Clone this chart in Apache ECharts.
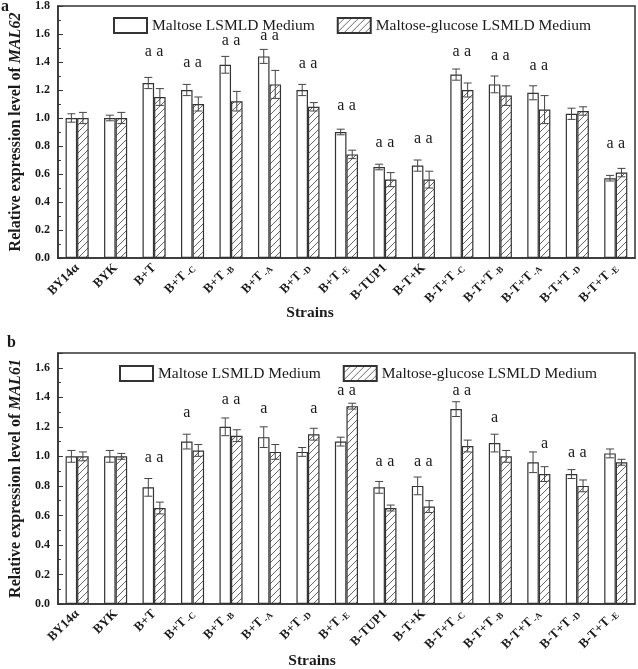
<!DOCTYPE html>
<html>
<head>
<meta charset="utf-8">
<script src="https://cdn.jsdelivr.net/npm/echarts@6/dist/echarts.min.js"></script>
<style>html,body{margin:0;padding:0;background:#fff}#c{width:638px;height:669px}</style>
</head>
<body>
<div id="c"></div>
<script>
const categories = ['BY14α','BYK','B+T','B+T-C','B+T-B','B+T-A','B+T-D','B+T-E','B-TUP1','B-T+K','B-T+T-C','B-T+T-B','B-T+T-A','B-T+T-D','B-T+T-E'];
const seriesNames = ['Maltose LSMLD Medium','Maltose-glucose LSMLD Medium'];

// Panel a: MAL62
const mal62Maltose     = [1.00,1.00,1.25,1.20,1.38,1.44,1.20,0.90,0.65,0.66,1.31,1.24,1.18,1.03,0.57];
const mal62MaltoseErr  = [0.03,0.02,0.04,0.04,0.06,0.05,0.04,0.02,0.02,0.04,0.04,0.06,0.05,0.04,0.02];
const mal62Glucose     = [1.00,1.00,1.15,1.10,1.12,1.24,1.08,0.74,0.56,0.56,1.20,1.16,1.06,1.05,0.61];
const mal62GlucoseErr  = [0.04,0.04,0.06,0.05,0.07,0.10,0.03,0.03,0.05,0.06,0.05,0.07,0.10,0.03,0.03];
const mal62SigMaltose  = [0,0,1,1,1,1,1,1,1,1,1,1,1,0,1];
const mal62SigGlucose  = [0,0,1,1,1,1,1,1,1,1,1,1,1,0,1];
const mal62SigLevel    = [0,0,1.46,1.38,1.54,1.57,1.37,1.07,0.81,0.84,1.46,1.43,1.36,0,0.80];

// Panel b: MAL61
const mal61Maltose     = [1.00,1.00,0.79,1.10,1.20,1.13,1.03,1.10,0.79,0.80,1.32,1.09,0.96,0.88,1.02];
const mal61MaltoseErr  = [0.04,0.04,0.06,0.05,0.06,0.07,0.03,0.03,0.04,0.06,0.05,0.06,0.07,0.03,0.03];
const mal61Glucose     = [1.00,1.00,0.65,1.04,1.14,1.03,1.15,1.34,0.65,0.66,1.07,1.00,0.88,0.80,0.96];
const mal61GlucoseErr  = [0.03,0.02,0.04,0.04,0.04,0.05,0.04,0.02,0.02,0.04,0.04,0.04,0.05,0.04,0.02];
const mal61SigMaltose  = [0,0,1,1,1,1,0,1,1,1,1,1,0,1,0];
const mal61SigGlucose  = [0,0,1,0,1,0,1,1,1,1,1,0,1,1,0];
const mal61SigLevel    = [0,0,0.98,1.28,1.37,1.31,1.31,1.43,0.95,0.95,1.43,1.25,1.07,1.01,0];

const sigLetter = 'a';
const FONT = '"Liberation Serif","Times New Roman",serif';
const INK = '#1a1a1a';
const EDGE = '#333';

function hatch(){
  const s = 7;
  const c = document.createElement('canvas');
  c.width = s; c.height = s;
  const g = c.getContext('2d');
  g.fillStyle = '#fff'; g.fillRect(0,0,s,s);
  g.strokeStyle = '#555'; g.lineWidth = 0.9;
  g.beginPath();
  g.moveTo(0,s); g.lineTo(s,0);
  g.moveTo(-1,1); g.lineTo(1,-1);
  g.moveTo(s-1,s+1); g.lineTo(s+1,s-1);
  g.stroke();
  return c;
}
const hatchPattern = {image: hatch(), repeat: 'repeat'};

function catLabel(v){
  const m = v.match(/^(.*T)(-[A-E])$/);
  if (m) return '{m|' + m[1] + '}{s|' + m[2] + '}';
  return '{m|' + v + '}';
}

function makeAxes(gi, maxV, title){
  const x = {
    type:'category', gridIndex:gi, data:categories,
    axisLine:{show:true, lineStyle:{color:EDGE, width:1.5}},
    axisTick:{show:false},
    axisLabel:{
      interval:0, rotate:45, margin:8, formatter:catLabel,
      rich:{
        m:{fontFamily:FONT, fontWeight:'bold', fontSize:13, color:INK, lineHeight:15},
        s:{fontFamily:FONT, fontWeight:'bold', fontSize:9, color:INK, lineHeight:15, verticalAlign:'bottom', padding:[0,0,0,2]}
      }
    }
  };
  const y = {
    type:'value', gridIndex:gi, min:0, max:maxV, interval:0.2,
    axisLine:{show:true, lineStyle:{color:EDGE, width:1.5}},
    axisTick:{show:true, inside:true, length:5, lineStyle:{color:EDGE}},
    minorTick:{show:true, splitNumber:2, length:3, lineStyle:{color:EDGE}},
    splitLine:{show:false},
    axisLabel:{showMaxLabel: Math.abs(Math.round(maxV/0.2)*0.2 - maxV) < 1e-9, fontFamily:FONT, fontWeight:'bold', fontSize:12, color:INK, margin:8,
      formatter:v=>v.toFixed(1)},
    name:'{n|Relative expression level of }{i|' + title + '}',
    nameLocation:'middle', nameGap:30, nameRotate:90,
    nameTextStyle:{
      rich:{
        n:{fontFamily:FONT, fontWeight:'bold', fontSize:16, color:INK},
        i:{fontFamily:FONT, fontWeight:'bold', fontStyle:'italic', fontSize:16, color:INK}
      }
    }
  };
  return [x,y];
}

function barSeries(gi, name, data, isHatch){
  return {
    type:'bar', name:name, xAxisIndex:gi, yAxisIndex:gi, data:data,
    barCategoryGap:'40%', barGap:'0%',
    itemStyle:{color: isHatch ? hatchPattern : '#fff', borderColor:EDGE, borderWidth:1.2},
    emphasis:{disabled:true}, z:2
  };
}

function errSeries(gi, vals, errs, side){
  return {
    type:'custom', xAxisIndex:gi, yAxisIndex:gi, z:4, silent:true,
    data: vals.map((v,i)=>[i, v, errs[i]]),
    encode:{x:0, y:1},
    renderItem:function(params, api){
      const i = api.value(0), v = api.value(1), e = api.value(2);
      const band = api.size([1,0])[0];
      const x = api.coord([i, v])[0] + side*band*0.15;
      const yT = api.coord([i, v+e])[1], yB = api.coord([i, v-e])[1];
      const cw = 4;
      const st = {stroke:'#444', lineWidth:1};
      return {type:'group', children:[
        {type:'line', shape:{x1:x, y1:yT, x2:x, y2:yB}, style:st},
        {type:'line', shape:{x1:x-cw, y1:yT, x2:x+cw, y2:yT}, style:st},
        {type:'line', shape:{x1:x-cw, y1:yB, x2:x+cw, y2:yB}, style:st}
      ]};
    }
  };
}

function sigSeries(gi, level, sW, sH){
  return {
    type:'custom', xAxisIndex:gi, yAxisIndex:gi, z:5, silent:true,
    data: level.map((l,i)=>[i, l]),
    encode:{x:0, y:1},
    renderItem:function(params, api){
      const i = api.value(0), l = api.value(1);
      const band = api.size([1,0])[0];
      const p = api.coord([i, l]);
      const kids = [];
      const mk = (x)=>({type:'text', x:x, y:p[1] - 2, style:{text:sigLetter, fontFamily:FONT, fontSize:16, fill:INK, align:'center', verticalAlign:'middle'}});
      if (sW[i]) kids.push(mk(p[0] - band*0.15));
      if (sH[i]) kids.push(mk(p[0] + band*0.15));
      return {type:'group', children:kids};
    }
  };
}

const axA = makeAxes(0, 1.8, 'MAL62');
const axB = makeAxes(1, 1.7, 'MAL61');

const legendCommon = {
  orient:'horizontal', itemWidth:33, itemHeight:15, itemGap:22, selectedMode:false,
  icon:'rect', padding:0,
  textStyle:{fontFamily:FONT, fontSize:15.5, color:INK}, data:seriesNames
};

const option = {
  backgroundColor:'#fff',
  animation:false,
  grid:[
    {left:48, top:6, width:587, height:252, show:true, borderColor:EDGE, borderWidth:1.5, backgroundColor:'transparent'},
    {left:48, top:353, width:587, height:251, show:true, borderColor:EDGE, borderWidth:1.5, backgroundColor:'transparent'}
  ],
  legend:[
    Object.assign({left:113, top:17}, legendCommon),
    Object.assign({left:119, top:365}, legendCommon)
  ],
  xAxis:[axA[0], axB[0]],
  yAxis:[axA[1], axB[1]],
  graphic:[
    {type:'text', left:1, top:-1, style:{text:'a', fontFamily:FONT, fontWeight:'bold', fontSize:16, fill:INK}},
    {type:'text', left:7, top:335, style:{text:'b', fontFamily:FONT, fontWeight:'bold', fontSize:16, fill:INK}},
    {type:'text', x:310, y:313, style:{text:'Strains', fontFamily:FONT, fontWeight:'bold', fontSize:15.5, fill:INK, align:'center', verticalAlign:'middle'}},
    {type:'text', x:312, y:661, style:{text:'Strains', fontFamily:FONT, fontWeight:'bold', fontSize:15.5, fill:INK, align:'center', verticalAlign:'middle'}}
  ],
  series:[
    barSeries(0, seriesNames[0], mal62Maltose, false),
    barSeries(0, seriesNames[1], mal62Glucose, true),
    errSeries(0, mal62Maltose, mal62MaltoseErr, -1),
    errSeries(0, mal62Glucose, mal62GlucoseErr, 1),
    sigSeries(0, mal62SigLevel, mal62SigMaltose, mal62SigGlucose),
    barSeries(1, seriesNames[0], mal61Maltose, false),
    barSeries(1, seriesNames[1], mal61Glucose, true),
    errSeries(1, mal61Maltose, mal61MaltoseErr, -1),
    errSeries(1, mal61Glucose, mal61GlucoseErr, 1),
    sigSeries(1, mal61SigLevel, mal61SigMaltose, mal61SigGlucose)
  ]
};

const chart = echarts.init(document.getElementById('c'), null, {renderer:'canvas'});
chart.setOption(option);
</script>
</body>
</html>
